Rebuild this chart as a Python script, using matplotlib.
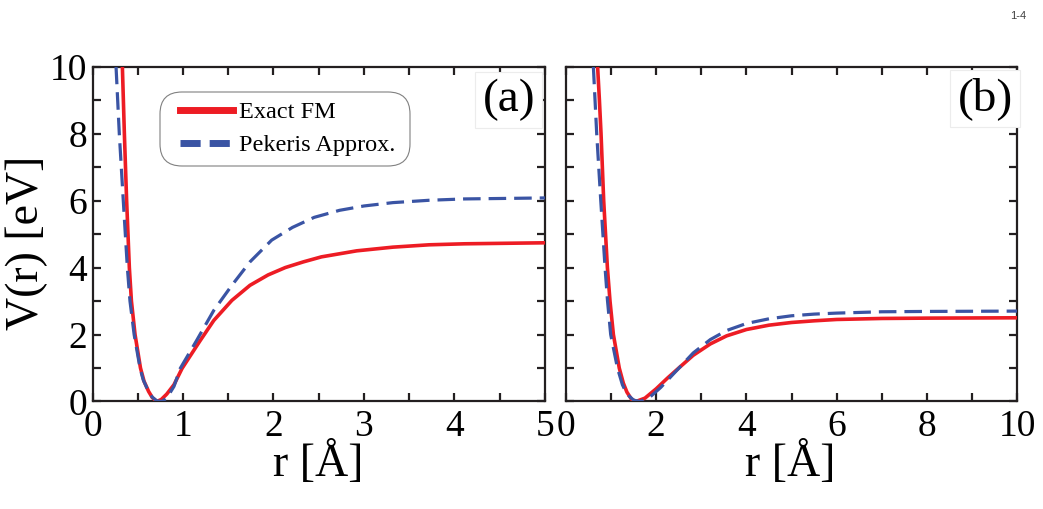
import matplotlib
matplotlib.use("Agg")
import matplotlib.pyplot as plt
from matplotlib.lines import Line2D
from matplotlib.patches import FancyBboxPatch
from matplotlib.ticker import MultipleLocator

# panel (a) values
a_exact_r = [0.33, 0.352, 0.377, 0.407, 0.43, 0.47, 0.53, 0.57, 0.62, 0.66, 0.71, 0.76, 0.82, 0.90, 0.99,
             1.19, 1.34, 1.54, 1.74, 1.94, 2.13, 2.33, 2.53, 2.92, 3.32, 3.72, 4.11, 5.0]
a_exact_V = [10, 8, 6, 4, 3, 2, 1, 0.6, 0.3, 0.12, 0, 0.06, 0.22, 0.5, 0.99,
             1.82, 2.42, 3.02, 3.47, 3.78, 4.0, 4.17, 4.32, 4.5, 4.61, 4.68, 4.71, 4.74]
a_pek_r = [0.26, 0.296, 0.34, 0.385, 0.414, 0.46, 0.525, 0.56, 0.61, 0.66, 0.71, 0.764, 0.82, 0.90, 0.97,
           1.15, 1.34, 1.54, 1.74, 1.98, 2.21, 2.45, 2.73, 3.0, 3.32, 3.72, 4.11, 5.0]
a_pek_V = [10, 8, 6, 4, 3, 2, 1, 0.65, 0.35, 0.13, 0.02, 0, 0.1, 0.45, 0.99,
           1.82, 2.72, 3.47, 4.17, 4.82, 5.2, 5.5, 5.71, 5.84, 5.94, 6.01, 6.05, 6.08]

# panel (b)
b_exact_r = [0.70, 0.74, 0.776, 0.835, 0.917, 0.975, 1.05, 1.18, 1.27, 1.35, 1.45, 1.55, 1.75, 2.0, 2.25,
             2.5, 2.82, 3.2, 3.56, 4.0, 4.5, 5.0, 5.5, 6.0, 7.0, 8.0, 10.0]
b_exact_V = [10, 9, 8, 6, 4, 3, 2, 1, 0.55, 0.28, 0.07, 0, 0.1, 0.38, 0.7,
             1.0, 1.38, 1.72, 1.96, 2.15, 2.28, 2.36, 2.41, 2.45, 2.48, 2.49, 2.50]
b_pek_r = [0.606, 0.68, 0.77, 0.865, 0.92, 0.99, 1.14, 1.25, 1.35, 1.5, 1.64, 1.85, 2.1, 2.4, 2.82,
           3.2, 3.56, 4.0, 4.5, 5.0, 5.5, 6.0, 7.0, 8.0, 10.0]
b_pek_V = [10, 8, 6, 4, 3, 2, 1, 0.5, 0.22, 0.04, 0, 0.12, 0.42, 0.85, 1.45,
           1.85, 2.12, 2.33, 2.47, 2.56, 2.61, 2.64, 2.68, 2.69, 2.70]

labels = ["Exact FM", "Pekeris Approx."]

red = "#ED1C24"
blue = "#3A54A4"
dark = "#231F20"

plt.rcParams["font.family"] = ["Liberation Serif", "DejaVu Serif"]

fig = plt.figure(figsize=(10.43, 5.09), dpi=100)
ax1 = fig.add_axes([0.0887, 0.2112, 0.4338, 0.6578])
ax2 = fig.add_axes([0.5427, 0.2112, 0.4324, 0.6578])


def style(ax, xmax, xmajor, xminor):
    ax.set_xlim(0, xmax)
    ax.set_ylim(0, 10)
    ax.xaxis.set_major_locator(MultipleLocator(xmajor))
    ax.xaxis.set_minor_locator(MultipleLocator(xminor))
    ax.yaxis.set_major_locator(MultipleLocator(2))
    ax.yaxis.set_minor_locator(MultipleLocator(1))
    ax.tick_params(which="both", direction="in", top=True, right=True,
                   length=6, width=1.6, color=dark)
    ax.tick_params(axis="x", which="major", labelsize=27, pad=6)
    ax.tick_params(axis="y", which="major", labelsize=27, pad=4)
    for s in ax.spines.values():
        s.set_linewidth(1.6)
        s.set_color(dark)


style(ax1, 5, 1, 0.5)
style(ax2, 10, 2, 1)

ax1.plot(a_exact_r, a_exact_V, color=red, lw=2.6, zorder=3)
ax1.plot(a_pek_r, a_pek_V, color=blue, lw=2.3, dashes=(5.5, 2.5), zorder=4)
ax2.plot(b_exact_r, b_exact_V, color=red, lw=2.6, zorder=3)
ax2.plot(b_pek_r, b_pek_V, color=blue, lw=2.3, dashes=(5.5, 2.5), zorder=4)

ax2.set_yticklabels([])

ax1.set_ylabel("V(r) [eV]", fontsize=33, va="center")
ax1.yaxis.set_label_coords(-0.145, 0.473)
ax1.set_xlabel("r [Å]", fontsize=33, va="center")
ax1.xaxis.set_label_coords(0.498, -0.186)
ax2.set_xlabel("r [Å]", fontsize=33, va="center")
ax2.xaxis.set_label_coords(0.497, -0.186)

box = dict(boxstyle="square,pad=0.15", fc="white", ec="#ececec", lw=0.8)
ax1.text(0.92, 0.90, "(a)", transform=ax1.transAxes, fontsize=34,
         ha="center", va="center", bbox=box, zorder=5)
ax2.text(0.929, 0.905, "(b)", transform=ax2.transAxes, fontsize=34,
         ha="center", va="center", bbox=box, zorder=5)

# rounded legend frame, in pixels
frame = FancyBboxPatch((160, 509 - 166), 250, 74,
                       boxstyle="round,pad=0,rounding_size=22",
                       fc="white", ec="#808080", lw=0.8, transform=None, zorder=6)
fig.add_artist(frame)

handles = [Line2D([], [], color=red, lw=5),
           Line2D([], [], color=blue, lw=5, dashes=(2.9, 1.3))]
leg = ax1.legend(handles, labels, loc="upper left", bbox_to_anchor=(0.193, 0.897),
                 borderaxespad=0, borderpad=0, handlelength=2.2,
                 handletextpad=0.25, labelspacing=0.45, fontsize=17.5,
                 frameon=False)
leg.set_zorder(7)
leg.remove()
fig.add_artist(leg)

fig.text(1018 / 1043, 1 - 16 / 509, "1-4", ha="center", va="center",
         fontsize=8, color="#404040", family=["Liberation Sans", "DejaVu Sans"])

fig.savefig("out.png", dpi=100)
